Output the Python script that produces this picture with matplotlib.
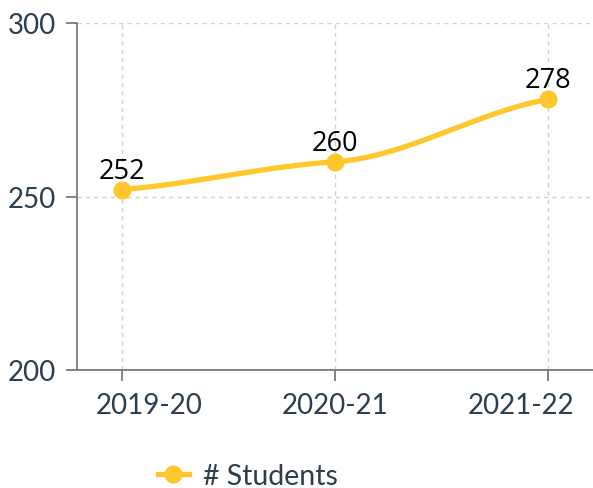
import numpy as np
import matplotlib
matplotlib.use('Agg')
import matplotlib.pyplot as plt
from matplotlib.lines import Line2D

# Chart data
categories = ["2019-20", "2020-21", "2021-22"]
students = [252, 260, 278]
y_ticks = [200, 250, 300]

LINE_COLOR = "#FFC72C"
TEXT_COLOR = "#2C3E50"
AXIS_COLOR = "#7A7A7A"
GRID_COLOR = "#D0D0D0"


def smooth_curve(xs, ys, n=200):
    """Cubic Hermite smoothing with damped tangents (ends 0.6 x secant, inner 0.3 x central diff)."""
    xs = np.asarray(xs, dtype=float)
    ys = np.asarray(ys, dtype=float)
    m = np.zeros_like(ys)
    m[0] = 0.6 * (ys[1] - ys[0]) / (xs[1] - xs[0])
    m[-1] = 0.6 * (ys[-1] - ys[-2]) / (xs[-1] - xs[-2])
    for i in range(1, len(ys) - 1):
        m[i] = 0.3 * (ys[i + 1] - ys[i - 1]) / (xs[i + 1] - xs[i - 1])
    out_x, out_y = [], []
    for i in range(len(xs) - 1):
        h = xs[i + 1] - xs[i]
        t = np.linspace(0, 1, n)
        h00 = 2 * t**3 - 3 * t**2 + 1
        h10 = t**3 - 2 * t**2 + t
        h01 = -2 * t**3 + 3 * t**2
        h11 = t**3 - t**2
        out_x.append(xs[i] + t * h)
        out_y.append(h00 * ys[i] + h10 * h * m[i] + h01 * ys[i + 1] + h11 * h * m[i + 1])
    return np.concatenate(out_x), np.concatenate(out_y)


fig = plt.figure(figsize=(5.93, 4.89), dpi=100)
ax = fig.add_axes([77 / 593, 1 - 371 / 489, 1 - 77 / 593, (371 - 24) / 489])

x = np.arange(len(categories))
sx, sy = smooth_curve(x, students)
ax.plot(sx, sy, color=LINE_COLOR, linewidth=3.8, solid_capstyle="round", zorder=3)
ax.plot(x, students, linestyle="none", marker="o", markersize=12,
        color=LINE_COLOR, zorder=4)

for xi, v in zip(x, students):
    ax.annotate(f"{v}", (xi, v), xytext=(0, 3.5), textcoords="offset points",
                ha="center", va="bottom", fontsize=19.5, color="black",
                family=["Open Sans", "DejaVu Sans"], zorder=5)

ax.set_xlim(-0.211, 2.211)
ax.set_ylim(200, 300)
ax.set_xticks(x)
ax.set_yticks(y_ticks)

ax.grid(True, linestyle=(0, (3, 3)), linewidth=1, color=GRID_COLOR, zorder=0)
ax.set_axisbelow(True)

for side in ["top", "right"]:
    ax.spines[side].set_visible(False)
for side in ["left", "bottom"]:
    ax.spines[side].set_color(AXIS_COLOR)
    ax.spines[side].set_linewidth(1.3)

ax.tick_params(axis="both", length=8, width=1.3, color=AXIS_COLOR,
               labelsize=20, labelcolor=TEXT_COLOR)
ax.tick_params(axis="x", labelbottom=False)
ax.tick_params(axis="y", pad=7)
for lbl in ax.get_yticklabels():
    lbl.set_family(["Lato", "DejaVu Sans"])

# category labels: outer ones pulled inward as in the source chart
label_shift = [19.5, 0, -19.5]
for xi, lab, dx in zip(x, categories, label_shift):
    ax.annotate(lab, (xi, 0), xycoords=("data", "axes fraction"),
                xytext=(dx, -16), textcoords="offset points",
                ha="center", va="top", fontsize=20, color=TEXT_COLOR,
                family=["Lato", "DejaVu Sans"], annotation_clip=False)

handle = Line2D([], [], color=LINE_COLOR, linewidth=3.8, marker="o", markersize=12)
fig.legend(handles=[handle], labels=["# Students"], loc="center left",
           bbox_to_anchor=(132 / 593, 1 - 477 / 489), frameon=False,
           handlelength=1.1, handletextpad=0.5,
           prop={"family": ["Lato", "DejaVu Sans"], "size": 20.5},
           labelcolor=TEXT_COLOR)

fig.savefig("out.png", dpi=100)
